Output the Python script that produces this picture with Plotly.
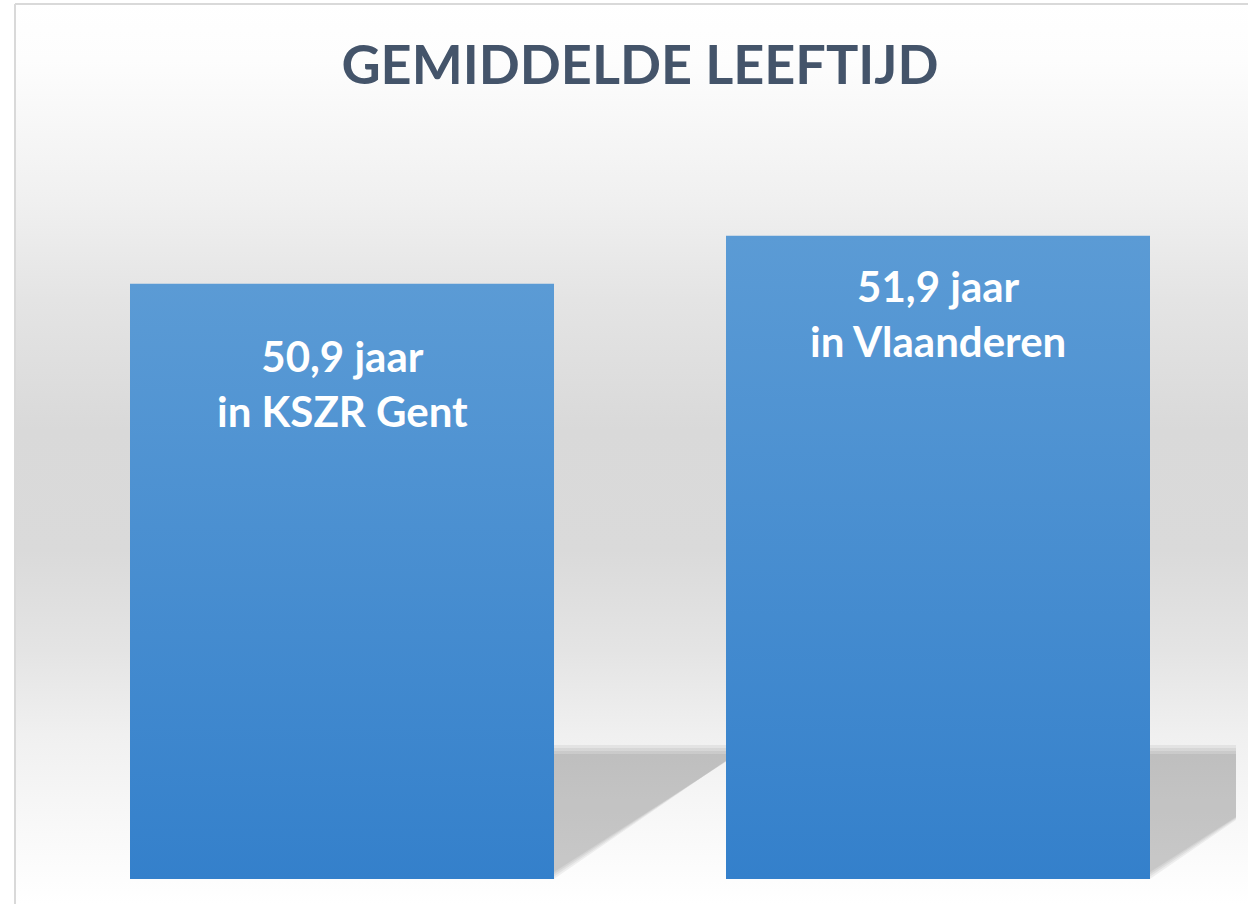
import base64
import plotly.graph_objects as go

# ---------------- data ----------------
regions = ["KSZR Gent", "Vlaanderen"]
mean_age = [50.9, 51.9]
title_text = "GEMIDDELDE LEEFTIJD"
unit_text = "jaar"

# ---------------- layout constants ----------------
W, H = 1248, 904
OFF = 0  # body margin removed via post_script -> figure origin = page origin
# plot area in page pixels
PL, PR, PT, PB = 44, 1236, 183, 879
M_L, M_R = PL - OFF, W - (PR - OFF)
M_T, M_B = PT - OFF, H - (PB - OFF)
PLOT_W = PR - PL
PLOT_H = PB - PT
Y_RANGE = [38.5, 53.0]
X_RANGE = [-0.5, 1.5]
BAR_W = 0.7114

TOP_COLOR = "#5b9bd5"
BOTTOM_COLOR = "#3480cb"
TITLE_COLOR = "#44546a"


def page_to_paper_x(px):
    return (px - PL) / PLOT_W


def page_to_paper_y(py):
    return (PB - py) / PLOT_H


def px_to_dx(dpx):
    return dpx * (X_RANGE[1] - X_RANGE[0]) / PLOT_W


def px_to_dy(dpx):
    return dpx * (Y_RANGE[1] - Y_RANGE[0]) / PLOT_H


# ---------------- background (wall/floor gradient + frame), page coords ----
stops = [(0, "#ffffff"), (60, "#fdfdfd"), (200, "#f0f0f0"), (300, "#e4e4e4"),
         (430, "#d9d9d9"), (550, "#dadada"), (650, "#e4e4e4"), (735, "#f0f0f0"),
         (800, "#f6f6f6"), (880, "#fdfdfd"), (904, "#ffffff")]
stop_xml = "".join(
    f'<stop offset="{y / H:.4f}" stop-color="{c}"/>' for y, c in stops)
svg = (
    f'<svg xmlns="http://www.w3.org/2000/svg" width="{W}" height="{H}" '
    f'viewBox="0 0 {W} {H}" preserveAspectRatio="none">'
    f'<defs><linearGradient id="g" x1="0" y1="0" x2="0" y2="{H}" '
    f'gradientUnits="userSpaceOnUse">{stop_xml}</linearGradient></defs>'
    f'<rect x="0" y="0" width="{W}" height="{H}" fill="#ffffff"/>'
    f'<rect x="16" y="5" width="{W}" height="{H}" fill="url(#g)"/>'
    f'<line x1="15" y1="4" x2="{W}" y2="4" stroke="#d9d9d9" stroke-width="2"/>'
    f'<line x1="15" y1="4" x2="15" y2="{H}" stroke="#d9d9d9" stroke-width="2"/>'
    '</svg>'
)
svg_uri = "data:image/svg+xml;base64," + base64.b64encode(svg.encode()).decode()

fig = go.Figure()

x_pos = list(range(len(regions)))

# base bars
fig.add_trace(go.Bar(
    x=x_pos, y=mean_age, width=BAR_W,
    marker=dict(color="#4a8fd2", line=dict(width=0)),
    hovertext=regions, hoverinfo="text+y", showlegend=False,
))

# gradient overlay of each bar (same geometry as the bars)
for xi, v in zip(x_pos, mean_age):
    x0, x1 = xi - BAR_W / 2, xi + BAR_W / 2
    y0 = Y_RANGE[0]
    fig.add_trace(go.Scatter(
        x=[x0, x1, x1, x0, x0], y=[y0, y0, v, v, y0],
        mode="lines", line=dict(width=0), fill="toself",
        fillgradient=dict(type="vertical",
                          colorscale=[[0, BOTTOM_COLOR], [1, TOP_COLOR]]),
        hoverinfo="skip", showlegend=False,
    ))

# floor shadows behind the bars
SHEAR = px_to_dx(195)
SHADOW_TOP = Y_RANGE[0] + px_to_dy(PB - 745)
shapes = []
for xi in x_pos:
    left, right = xi - BAR_W / 2, xi + BAR_W / 2
    base = Y_RANGE[0]
    for k in range(4):
        inset = k * 3
        top = SHADOW_TOP - px_to_dy(inset)
        r = right - px_to_dx(inset * 1.2)
        path = (f"M {left},{base} L {left + SHEAR},{top} "
                f"L {r + SHEAR},{top} L {r},{base} Z")
        shapes.append(dict(type="path", path=path, xref="x", yref="y",
                           fillcolor="rgba(0,0,0,0.055)", line=dict(width=0),
                           layer="below"))

# labels inside bars
label_shift = [-100, -78]
annotations = []
for xi, v, reg, sh in zip(x_pos, mean_age, regions, label_shift):
    txt = f"{v:.1f}".replace(".", ",") + f" {unit_text}<br>in {reg}"
    annotations.append(dict(
        x=xi, y=v, xref="x", yref="y", text=txt, showarrow=False,
        yanchor="middle", xanchor="center", yshift=sh,
        font=dict(family="Lato", size=42, color="#ffffff", weight="bold"),
        align="center",
    ))

fig.update_layout(
    width=W, height=H,
    margin=dict(l=M_L, r=M_R, t=M_T, b=M_B, pad=0),
    paper_bgcolor="#ffffff",
    plot_bgcolor="rgba(0,0,0,0)",
    title=dict(text=f"<b>{title_text}</b>", x=0.5, xref="paper", xanchor="center",
               y=1 - (65 - OFF) / H, yref="container", yanchor="middle",
               font=dict(family="Lato", size=54, color=TITLE_COLOR)),
    xaxis=dict(range=X_RANGE, visible=False, fixedrange=True),
    yaxis=dict(range=Y_RANGE, visible=False, fixedrange=True),
    images=[dict(source=svg_uri, xref="paper", yref="paper",
                 x=page_to_paper_x(OFF), y=page_to_paper_y(OFF),
                 sizex=W / PLOT_W, sizey=H / PLOT_H,
                 xanchor="left", yanchor="top", sizing="stretch",
                 layer="below")],
    shapes=shapes,
    annotations=annotations,
    bargap=0,
    showlegend=False,
)

fig.write_html("out.html",
               config={"displayModeBar": False},
               post_script="document.body.style.margin='0';"
                           "document.body.style.overflow='hidden';")
